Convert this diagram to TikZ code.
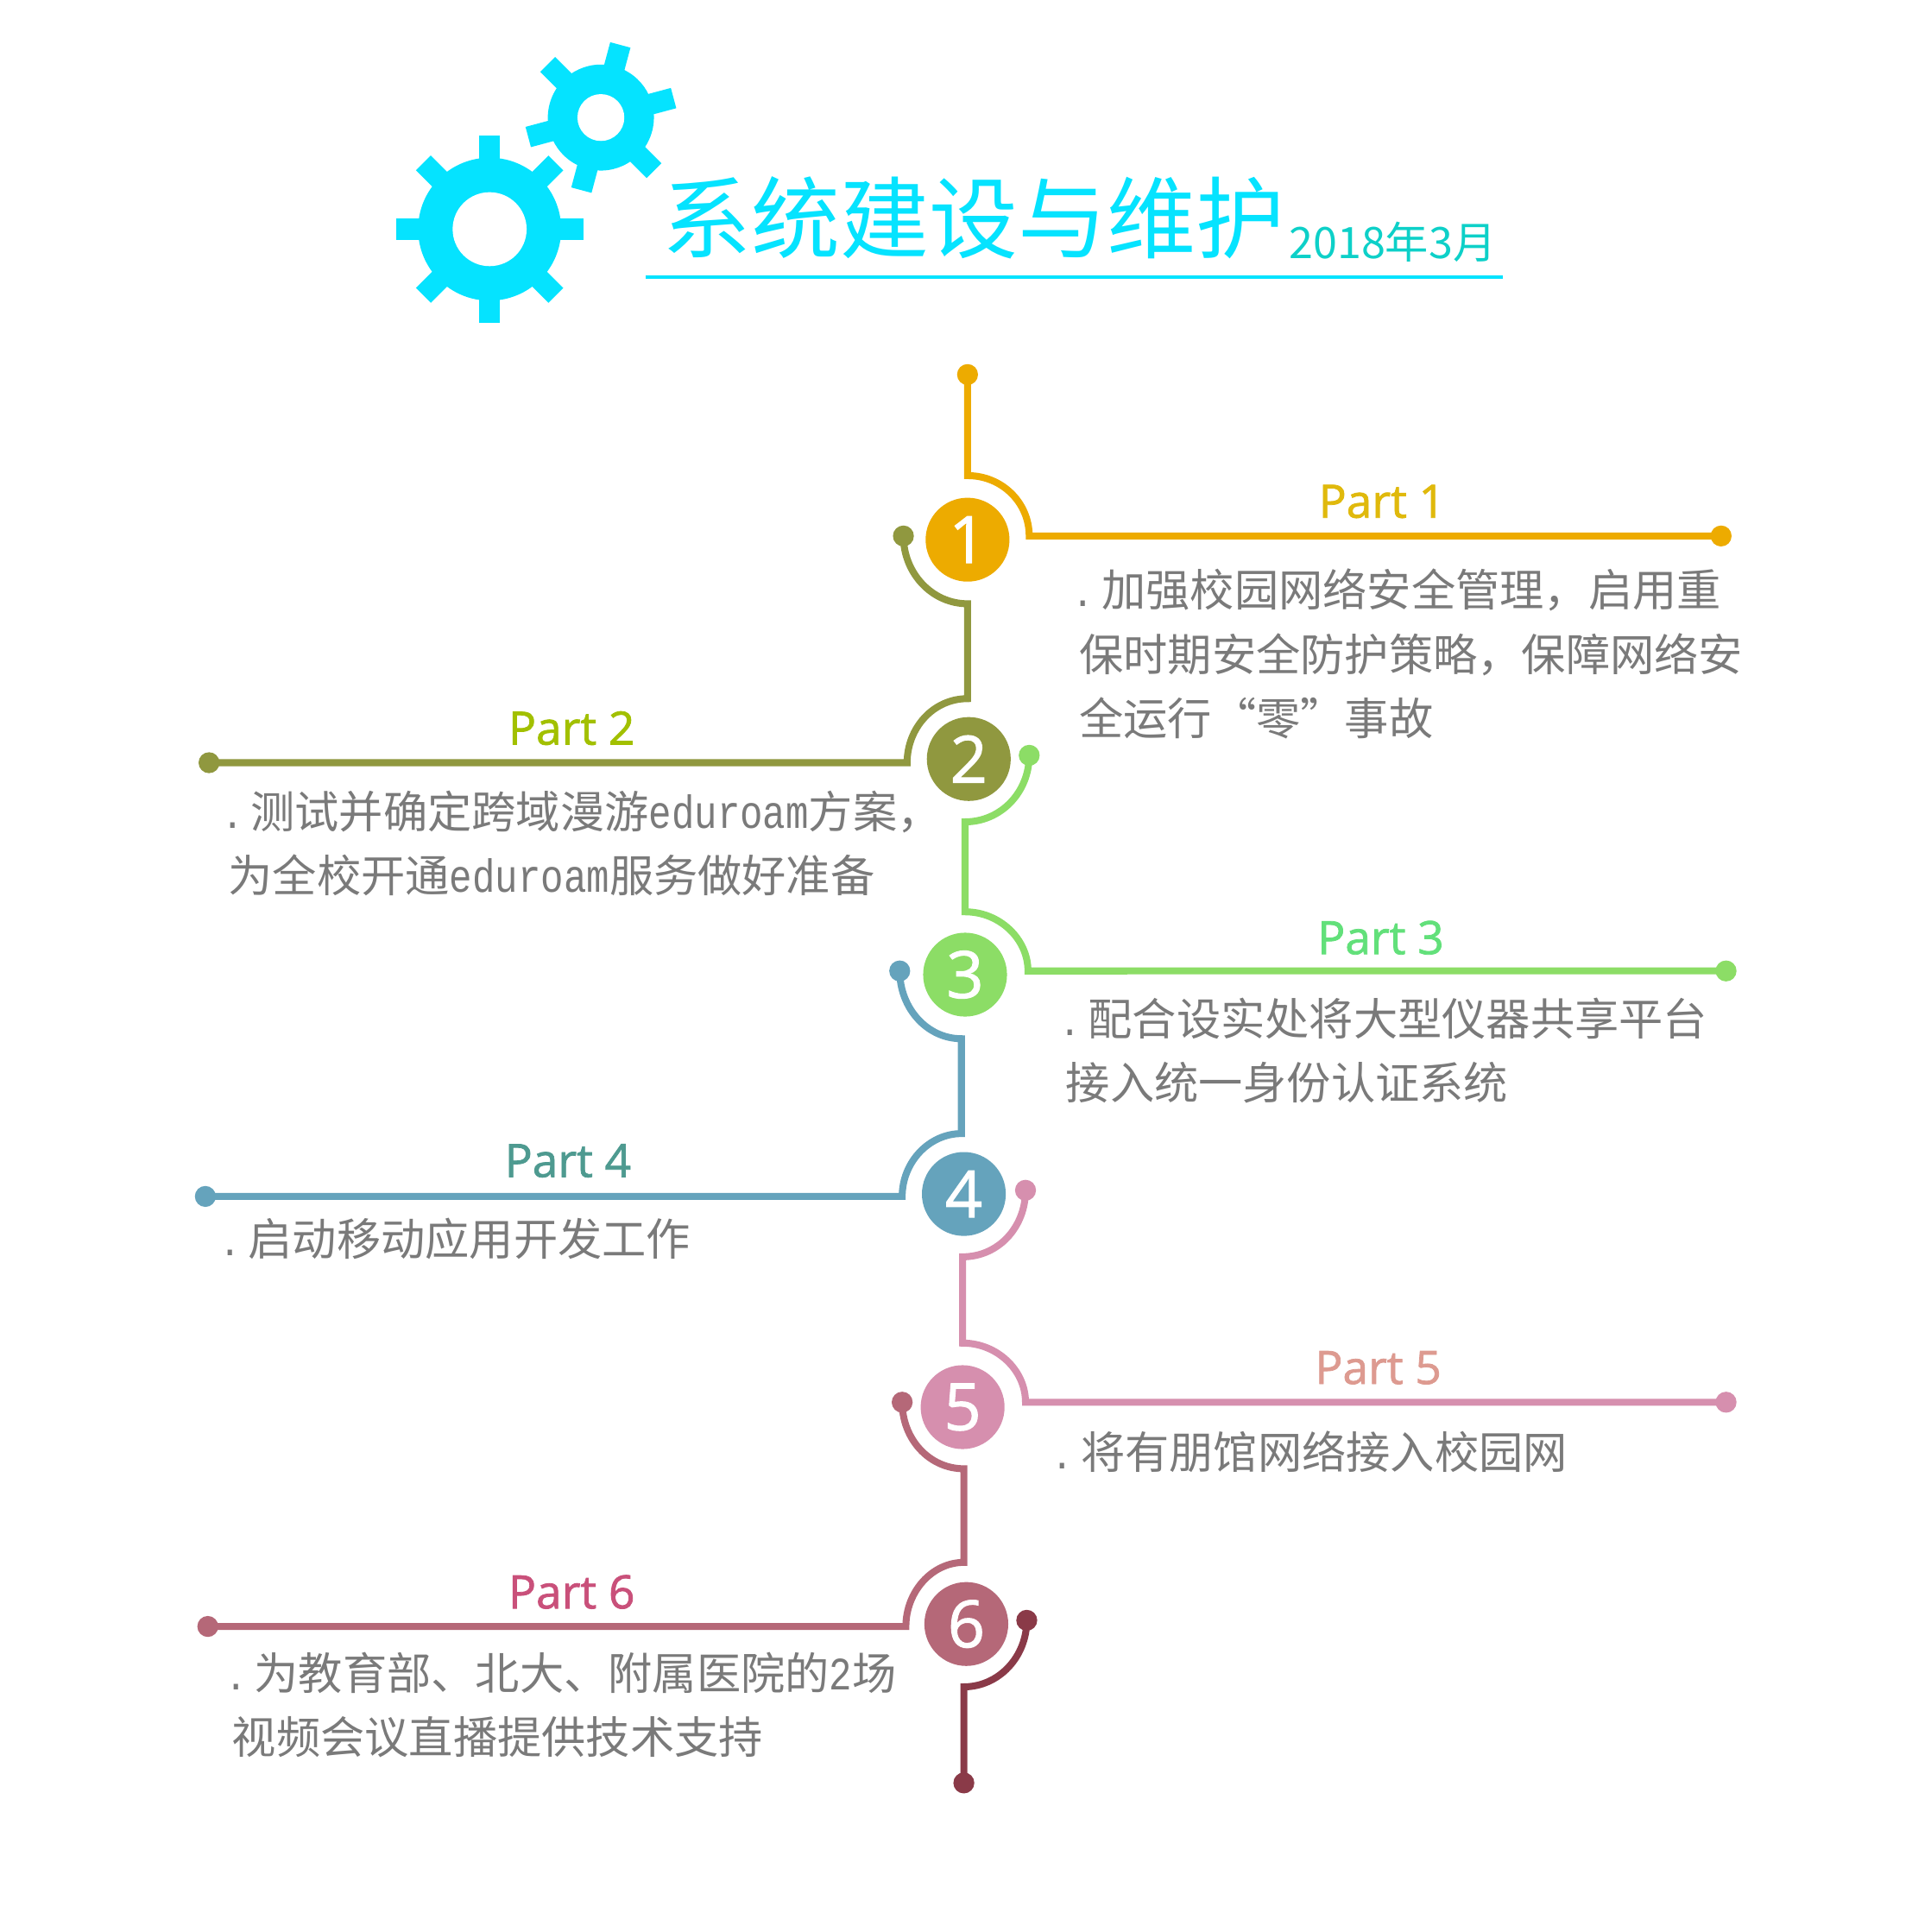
\documentclass[tikz,border=0pt]{standalone}
\usepackage{fontspec}
\setmainfont[FakeBold=1.4]{Open Sans}
\newfontfamily\cjk{Noto Sans CJK SC}
\newfontfamily\mono[Scale=0.86]{Liberation Mono}
\newcommand{\lat}[1]{\scalebox{1}[1.22]{\mono #1}}
\newcommand{\pt}{\makebox[0.504em][l]{\kern-1.7pt{\mono .}}}
\definecolor{cA}{HTML}{EDAB00}\definecolor{cB}{HTML}{90983F}\definecolor{cC}{HTML}{8CDD66}
\definecolor{cD}{HTML}{65A3BC}\definecolor{cE}{HTML}{D68FAE}\definecolor{cF}{HTML}{B56878}\definecolor{cG}{HTML}{8A3A48}
\definecolor{lA}{HTML}{E0B90C}\definecolor{lB}{HTML}{A2C000}\definecolor{lC}{HTML}{62E07A}
\definecolor{lD}{HTML}{4E9A90}\definecolor{lE}{HTML}{DD9A90}\definecolor{lF}{HTML}{C9507A}
\definecolor{cyanT}{HTML}{05E3FF}\definecolor{dateT}{HTML}{0DD0C8}\definecolor{bodyT}{HTML}{7A7A7A}
\tikzset{
 x=0.01cm,y=-0.01cm,
 conn/.style={line width=1.6pt,line join=miter},
 enddot/.style={circle,fill=#1,minimum size=17*0.01cm,inner sep=0pt},
 badge/.style={circle,fill=#1,minimum size=68*0.01cm,inner sep=0pt,text=white,font=\fontsize{15}{15}\selectfont},
 partlabel/.style={text=#1,inner sep=0pt,font=\fontsize{10.6}{12}\selectfont},
 bodytext/.style={anchor=north west,inner sep=0pt,align=left,text=bodyT,font=\cjk\fontsize{10.2}{14.8}\selectfont},
}
\newcommand{\gear}[7]{% cx cy rot body tooth half-width step
 \begin{scope}[shift={(#1,#2)},rotate=#3]
  \fill[cyanT] (0,0) circle[radius=#4];
  \foreach \a in {#7}{\fill[cyanT,rotate=\a] (-#6,0) rectangle (#6,#5);}
 \end{scope}}
\begin{document}
\begin{tikzpicture}
\useasboundingbox (0,0) rectangle (1565,1566.4);
\fill[white] (0,0) rectangle (1565,1566.4);
\begin{scope}[xshift=-0.005cm,yscale=0.999]
% gears
\gear{397.5}{186}{0}{58}{76}{8.5}{0,45,...,315}
\fill[white] (397.5,186) circle[radius=30];
\gear{487.7}{95.4}{-15}{43}{61}{8.5}{0,60,...,300}
\fill[white] (487.7,95.4) circle[radius=19];
% title
\node[anchor=base west,inner sep=0pt,text=cyanT,font=\cjk\fontsize{20.5}{24}\selectfont] (title) at (537,204) {系统建设与维护};
\node[anchor=base west,inner sep=0pt,text=dateT,font=\cjk\fontsize{10}{12}\selectfont] (date) at (1045,209.5) {2018年3月};
\coordinate (ulL) at (524,225); \coordinate (ulR) at (1219,225);
\draw[cyanT,line width=0.75pt] (ulL) -- (ulR);
% badges
\node[badge=cA] (b1) at (785,438) {1};
\node[badge=cB] (b2) at (786,616) {2};
\node[badge=cC] (b3) at (783,791) {3};
\node[badge=cD] (b4) at (782,969) {4};
\node[badge=cE] (b5) at (781,1142) {5};
\node[badge=cF] (b6) at (784,1318) {6};
% dots
\node[enddot=cA] (t1) at (785,304) {};
\node[enddot=cA] (e1) at (1396,435) {};
\node[enddot=cB] (s2) at (733,435) {};
\node[enddot=cB] (e2) at (170,619) {};
\node[enddot=cC] (s3) at (835,613) {};
\node[enddot=cC] (e3) at (1400,788) {};
\node[enddot=cD] (s4) at (730,788) {};
\node[enddot=cD] (e4) at (167,971) {};
\node[enddot=cE] (s5) at (832,966) {};
\node[enddot=cE] (e5) at (1400,1138) {};
\node[enddot=cF] (s6) at (732,1138) {};
\node[enddot=cF] (e6) at (169,1320) {};
\node[enddot=cG] (s7) at (833,1315) {};
\node[enddot=cG] (e7) at (782,1447) {};
% connectors
\draw[conn,cA] (t1.center) -- (785,386) .. controls (813,386) and (835,408) .. (835,435) -- (e1.center);
\draw[conn,cB] (s2.center) .. controls (733,465) and (756,490) .. (785,490) -- (785,567) .. controls (757,567) and (736,591) .. (736,619) -- (e2.center);
\draw[conn,cC] (s3.center) .. controls (835,643) and (812,667) .. (783,667) -- (783,740) .. controls (811,740) and (834,762) .. (834,788) -- (e3.center);
\draw[conn,cD] (s4.center) .. controls (730,818) and (752,843) .. (780,843) -- (780,920) .. controls (754,920) and (732,943) .. (732,971) -- (e4.center);
\draw[conn,cE] (s5.center) .. controls (832,996) and (810,1020) .. (781,1020) -- (781,1090) .. controls (809,1090) and (832,1112) .. (832,1138) -- (e5.center);
\draw[conn,cF] (s6.center) .. controls (732,1168) and (754,1192) .. (782,1192) -- (782,1268) .. controls (756,1268) and (735,1292) .. (735,1320) -- (e6.center);
\draw[conn,cG] (s7.center) .. controls (833,1345) and (810,1369) .. (782,1369) -- (e7.center);
% part labels
\node[partlabel=lA] (p1) at (1121,407) {Part 1};
\node[partlabel=lB] (p2) at (464,591) {Part 2};
\node[partlabel=lC] (p3) at (1120,761) {Part 3};
\node[partlabel=lD] (p4) at (461,942) {Part 4};
\node[partlabel=lE] (p5) at (1118,1110) {Part 5};
\node[partlabel=lF] (p6) at (464,1292) {Part 6};
% body
\node[bodytext] (x1) at (875,461) {\pt 加强校园网络安全管理，启用重\\保时期安全防护策略，保障网络安\\全运行“零”事故};
\node[bodytext] (x2) at (185,641) {\pt 测试并确定跨域漫游\lat{eduroam}方案，\\为全校开通\lat{eduroam}服务做好准备};
\node[bodytext] (x3) at (864,809) {\pt 配合设实处将大型仪器共享平台\\接入统一身份认证系统};
\node[bodytext] (x4) at (183,988) {\pt 启动移动应用开发工作};
\node[bodytext] (x5) at (858,1161) {\pt 将有朋馆网络接入校园网};
\node[bodytext] (x6) at (188,1340) {\pt 为教育部、北大、附属医院的\lat{2}场\\视频会议直播提供技术支持};
\end{scope}
\end{tikzpicture}
\end{document}
